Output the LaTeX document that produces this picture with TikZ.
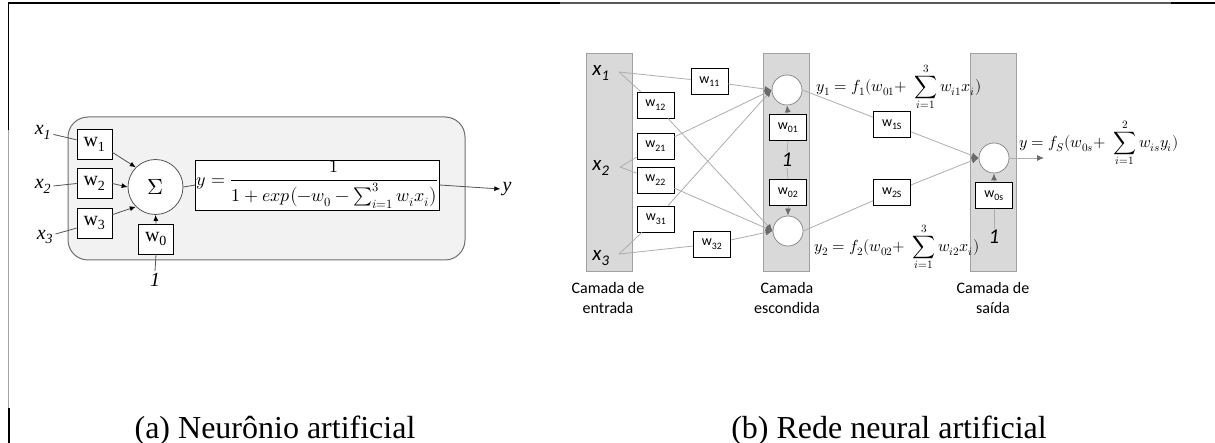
\documentclass[tikz,border=0pt]{standalone}
\usepackage{fontspec}
\usepackage{unicode-math}
\setmainfont{Liberation Serif}
\setsansfont{Carlito}
\setmathfont{Latin Modern Math}
\usetikzlibrary{arrows.meta}

\definecolor{panelfill}{HTML}{F2F2F2}
\definecolor{panelline}{HTML}{6E6E6E}
\definecolor{layerfill}{HTML}{D9D9D9}
\definecolor{layerline}{HTML}{A0A0A0}
\definecolor{wireb}{HTML}{ADADAD}
\definecolor{wirea}{HTML}{555555}
\definecolor{tipcol}{HTML}{6A6A6A}
\definecolor{ringcol}{HTML}{8C8C8C}

\begin{document}
\begin{tikzpicture}[x=1pt,y=-1pt,
  % panel (a): single neuron
  cellbox/.style={draw=panelline, fill=panelfill, line width=1pt, rounded corners=20pt,
    minimum width=397pt, minimum height=143pt, inner sep=0pt},
  wboxa/.style={draw=black, line width=0.8pt, fill=white, minimum width=35pt,
    minimum height=30pt, inner sep=0pt, font=\fontsize{20}{22}\selectfont},
  sumnode/.style={draw=wirea, line width=0.8pt, fill=white, circle, minimum size=55pt,
    inner sep=0pt, font=\fontsize{22}{24}\selectfont},
  fbox/.style={draw=black, line width=0.8pt, fill=white, minimum width=239pt,
    minimum height=46pt, inner sep=1pt, font=\fontsize{18}{20}\selectfont},
  lbla/.style={inner sep=2pt, font=\fontsize{20}{22}\selectfont\itshape},
  wirea/.style={draw=wirea, line width=0.8pt},
  arra/.style={wirea, -{Latex[length=6pt,width=5pt,color=black]}},
  % panel (b): network
  layer/.style={draw=layerline, fill=layerfill, line width=1pt, minimum width=46pt,
    minimum height=218pt, inner sep=0pt},
  wboxb/.style={draw=black, line width=0.8pt, fill=white, minimum width=37pt,
    minimum height=26pt, inner sep=0pt, font=\sffamily\fontsize{14}{16}\selectfont},
  neuron/.style={draw=ringcol, line width=0.8pt, fill=white, circle, minimum size=30pt,
    inner sep=0pt},
  lblb/.style={inner sep=1pt, font=\sffamily\itshape\fontsize{21}{23}\selectfont},
  capb/.style={align=center, inner sep=0pt, font=\sffamily\fontsize{16}{20}\selectfont},
  eqb/.style={anchor=west, inner sep=0pt, font=\fontsize{16}{18}\selectfont},
  wireb/.style={draw=wireb, line width=0.8pt},
  arrb/.style={wireb, -{Latex[length=7pt,width=6pt,color=tipcol]}},
  caption/.style={anchor=base, inner sep=0pt, font=\fontsize{32}{36}\selectfont}
]
\useasboundingbox (0,0) rectangle (1215,443);

% page frame
\draw[black, line width=2.2pt] (8,3) -- (560,3);
\draw[black!65, line width=1.4pt] (560,3) -- (1171,3);
\draw[black, line width=2.6pt] (1171,3) -- (1215,3);
\draw[black, line width=1.6pt] (8.5,2) -- (8.5,130);
\draw[black!35, line width=1.2pt] (8.5,130) -- (8.5,408);
\draw[black, line width=2pt] (8.5,408) -- (8.5,443);

% ---------------- (a) artificial neuron ----------------
\node[cellbox] (cell) at (266.5,188.5) {};

\node[lbla] (x1) at (43,132) {x\textsubscript{1}};
\node[lbla] (x2) at (43,186) {x\textsubscript{2}};
\node[lbla] (x3) at (45,237) {x\textsubscript{3}};

\node[wboxa] (w1) at (94.5,144) {w\textsubscript{1}};
\node[wboxa] (w2) at (94.5,183.5) {w\textsubscript{2}};
\node[wboxa] (w3) at (94.5,223) {w\textsubscript{3}};
\node[wboxa] (w0) at (156,239) {w\textsubscript{0}};

\node[sumnode] (sum) at (155.5,187) {$\Sigma$};
\node[lbla] (bias) at (155,280) {1};

\node[fbox] (act) at (317.5,185)
  {$\displaystyle y=\frac{1}{1+exp\bigl(-w_0-\sum_{i=1}^{3}w_i x_i\bigr)}$};
\node[lbla] (yout) at (507,189) {y};

\draw[wirea] (x1) -- (w1);
\draw[wirea] (x2.east) -- (w2.west);
\draw[wirea] (x3) -- (w3);
\draw[arra] (w1.-25) -- (sum.135);
\draw[arra] (w2.east) -- (sum.west);
\draw[arra] (w3.25) -- (sum.225);
\draw[wirea] (bias.north) -- (w0.south);
\draw[arra] (w0.north) -- (sum.south);
\draw[wirea] (sum.east) -- (act.west);
\draw[arra] (act.east) -- (yout.west);

% ---------------- (b) artificial neural network ----------------
\node[layer] (Lin) at (609,163) {};
\node[layer] (Lhid) at (786,163) {};
\node[layer] (Lout) at (993,163) {};

\node[lblb] (xb1) at (601,73) {x\textsubscript{1}};
\node[lblb] (xb2) at (601,168) {x\textsubscript{2}};
\node[lblb] (xb3) at (601,258) {x\textsubscript{3}};
\coordinate (p1) at (619,72);
\coordinate (p2) at (620,167);
\coordinate (p3) at (619,254);

\node[neuron] (h1) at (787,90) {};
\node[neuron] (h2) at (788,231) {};
\node[neuron] (o) at (994,158) {};

\node[wboxb] (w11) at (709.5,81.5) {w\textsubscript{11}};
\node[wboxb] (w12) at (655.5,105) {w\textsubscript{12}};
\node[wboxb] (w21) at (655.5,146) {w\textsubscript{21}};
\node[wboxb] (w22) at (655.5,180) {w\textsubscript{22}};
\node[wboxb] (w31) at (656,219) {w\textsubscript{31}};
\node[wboxb] (w32) at (712,244) {w\textsubscript{32}};
\node[wboxb] (w01) at (788,127.5) {w\textsubscript{01}};
\node[wboxb] (w02) at (788,192.5) {w\textsubscript{02}};
\node[wboxb] (w1s) at (892,124.5) {w\textsubscript{1S}};
\node[wboxb] (w2s) at (892,192.5) {w\textsubscript{2S}};
\node[wboxb] (w0s) at (994,195.5) {w\textsubscript{0s}};

\node[lblb] (oneh) at (787,160) {1};
\node[lblb] (oneo) at (994,237) {1};

\coordinate (oend) at (1044,158);

\node[eqb] (eq1) at (816,87)
  {$\displaystyle y_1=f_1(w_{01}\mathord{+}\;\sum_{i=1}^{3}w_{i1}x_i)$};
\node[eqb] (eq2) at (814,247)
  {$\displaystyle y_2=f_2(w_{02}\mathord{+}\;\sum_{i=1}^{3}w_{i2}x_i)$};
\node[eqb] (eq3) at (1019,143)
  {$\displaystyle y=f_S(w_{0s}\mathord{+}\;\sum_{i=1}^{2}w_{is}y_i)$};

\node[capb] (cin) at (608,298) {Camada de\\entrada};
\node[capb] (chid) at (787,298) {Camada\\escondida};
\node[capb] (cout) at (993,298) {Camada de\\saída};

% input-to-hidden weights
\draw[wireb] (p1) -- (w11);  \draw[arrb] (w11) -- (h1.west);
\draw[wireb] (p1) -- (w12);  \draw[arrb] (w12) -- (h2.west);
\draw[wireb] (p2) -- (w21);  \draw[arrb] (w21) -- (h1.west);
\draw[wireb] (p2) -- (w22);  \draw[arrb] (w22) -- (h2.west);
\draw[wireb] (p3) -- (w31);  \draw[arrb] (w31) -- (h1.west);
\draw[wireb] (p3) -- (w32);  \draw[arrb] (w32) -- (h2.west);
% hidden biases
\draw[wireb] (w01.south) -- (oneh.north);
\draw[wireb] (oneh.south) -- (w02.north);
\draw[arrb] (w01.north) -- (h1.south);
\draw[arrb] (w02.south) -- (h2.north);
% hidden-to-output weights
\draw[wireb] (h1.east) -- (w1s);  \draw[arrb] (w1s) -- (o.west);
\draw[wireb] (h2.east) -- (w2s);  \draw[arrb] (w2s) -- (o.west);
% output bias and output
\draw[wireb] (oneo.north) -- (w0s.south);
\draw[arrb] (w0s.north) -- (o.south);
\draw[arrb] (o.east) -- (oend);

% captions
\node[caption] (capa) at (275,438) {(a) Neurônio artificial};
\node[caption] (capb) at (889,438) {(b) Rede neural artificial};
\end{tikzpicture}
\end{document}
